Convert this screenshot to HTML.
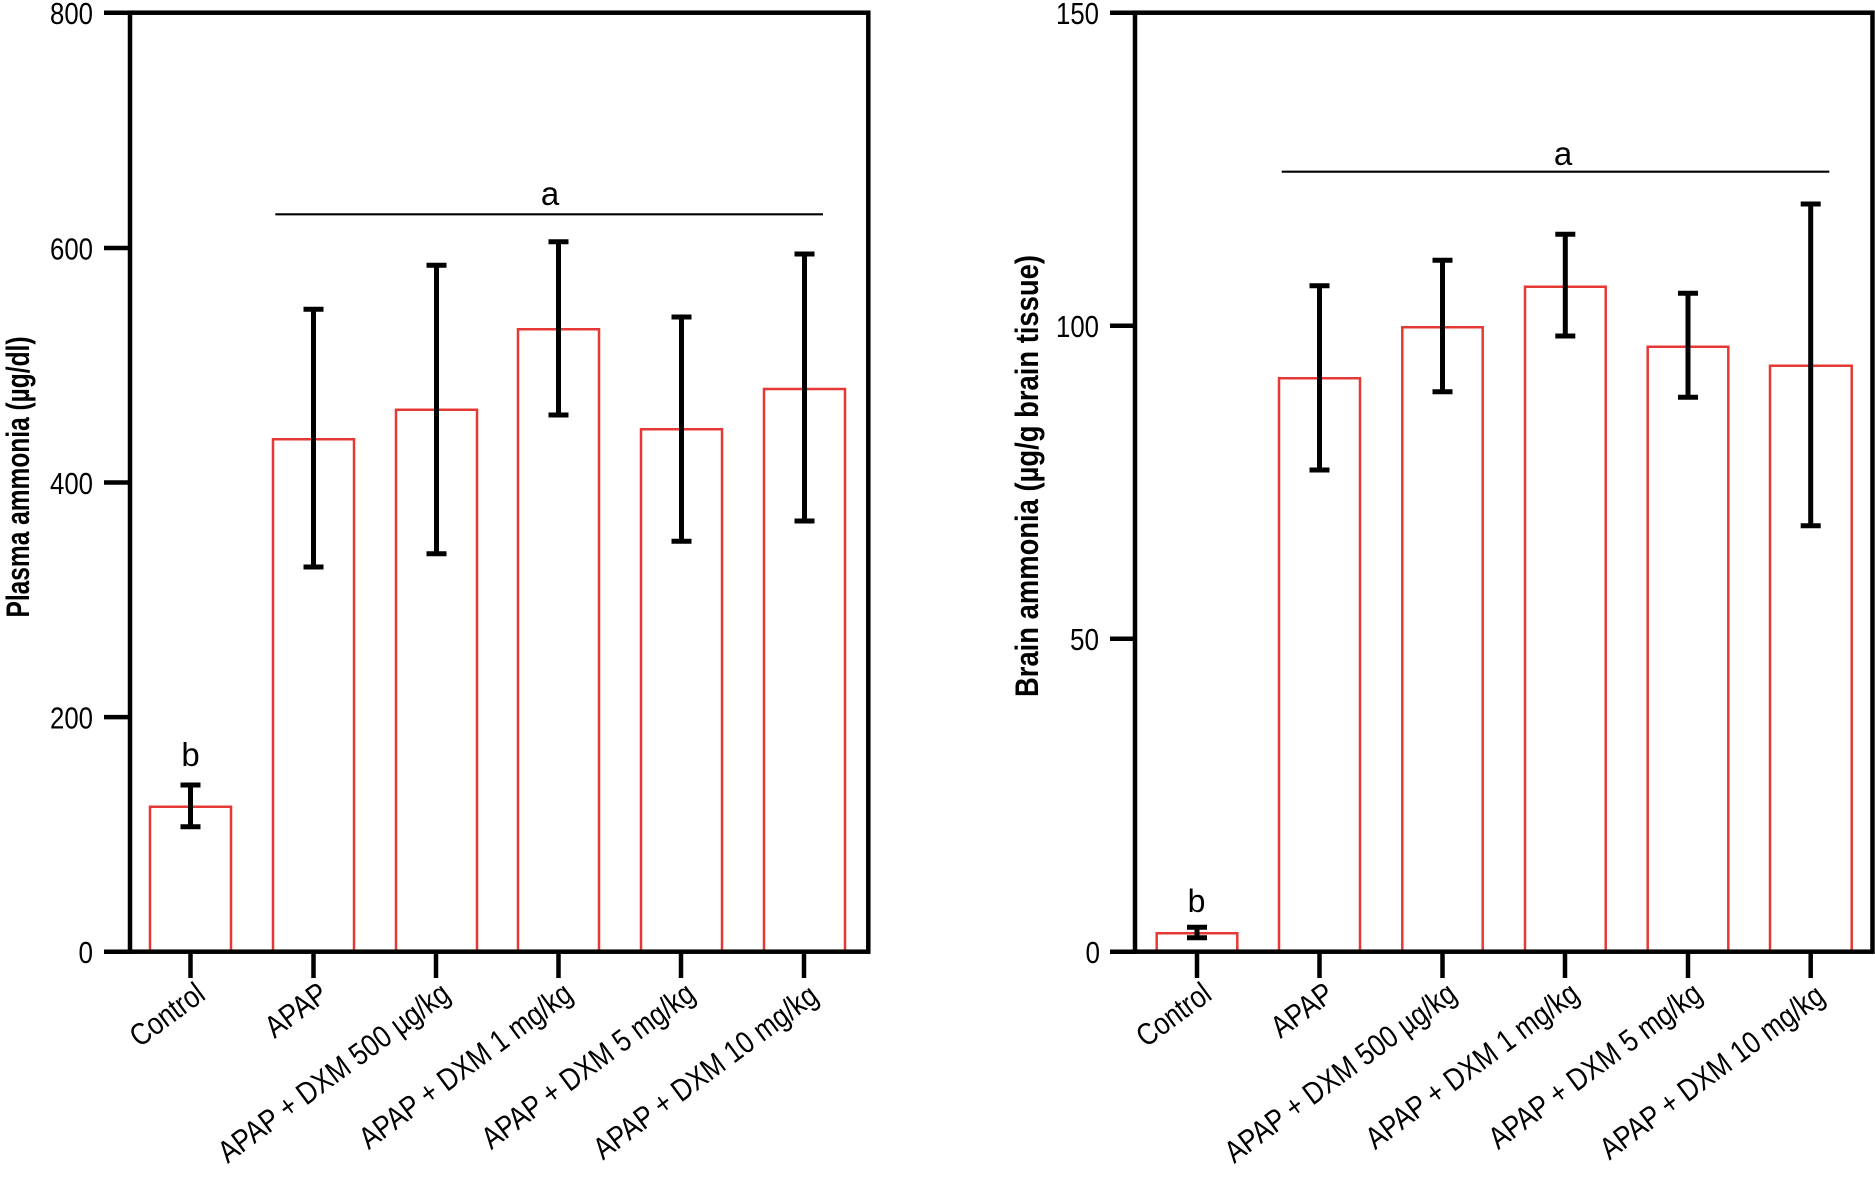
<!DOCTYPE html>
<html>
<head>
<meta charset="utf-8">
<style>
  html, body { margin: 0; padding: 0; background: #ffffff; }
  svg { display: block; }
  text { font-family: "Liberation Sans", "DejaVu Sans", sans-serif; fill: #000; }
</style>
</head>
<body>
<svg width="1875" height="1177" viewBox="0 0 1875 1177" xmlns="http://www.w3.org/2000/svg">
  <rect x="0" y="0" width="1875" height="1177" fill="#ffffff"/>

  <!-- ================= LEFT PANEL ================= -->
  <g fill="none" stroke="#e53935" stroke-width="2.5">
    <path d="M150,952 V806.7 H231 V952"/>
    <path d="M273,952 V439.3 H354 V952"/>
    <path d="M396,952 V409.7 H477 V952"/>
    <path d="M518,952 V329.3 H599 V952"/>
    <path d="M641,952 V429.3 H722 V952"/>
    <path d="M764,952 V389 H845 V952"/>
  </g>
  <g stroke="#000" stroke-width="5" fill="none">
    <path d="M190.5,785 V826.7 M180.5,785 H200.5 M180.5,826.7 H200.5"/>
    <path d="M313.5,309.3 V567 M303.5,309.3 H323.5 M303.5,567 H323.5"/>
    <path d="M436.5,265.3 V553.7 M426.5,265.3 H446.5 M426.5,553.7 H446.5"/>
    <path d="M558.5,241.7 V415 M548.5,241.7 H568.5 M548.5,415 H568.5"/>
    <path d="M681.5,317 V541.3 M671.5,317 H691.5 M671.5,541.3 H691.5"/>
    <path d="M804.5,254 V521 M794.5,254 H814.5 M794.5,521 H814.5"/>
  </g>
  <rect x="130" y="12.7" width="738.3" height="939" fill="none" stroke="#000" stroke-width="4.5"/>
  <g stroke="#000" stroke-width="4.5">
    <line x1="104" y1="12.7" x2="130" y2="12.7"/>
    <line x1="104" y1="248" x2="130" y2="248"/>
    <line x1="104" y1="482.5" x2="130" y2="482.5"/>
    <line x1="104" y1="717.1" x2="130" y2="717.1"/>
    <line x1="104" y1="951.7" x2="130" y2="951.7"/>
  </g>
  <g stroke="#000" stroke-width="4.5">
    <line x1="190.5" y1="952" x2="190.5" y2="978"/>
    <line x1="313.5" y1="952" x2="313.5" y2="978"/>
    <line x1="436" y1="952" x2="436" y2="978"/>
    <line x1="558.5" y1="952" x2="558.5" y2="978"/>
    <line x1="681" y1="952" x2="681" y2="978"/>
    <line x1="804" y1="952" x2="804" y2="978"/>
  </g>
  <g font-size="31" text-anchor="end">
    <text x="93" y="24" textLength="43" lengthAdjust="spacingAndGlyphs">800</text>
    <text x="93" y="259.5" textLength="43" lengthAdjust="spacingAndGlyphs">600</text>
    <text x="93" y="494" textLength="43" lengthAdjust="spacingAndGlyphs">400</text>
    <text x="93" y="728.5" textLength="43" lengthAdjust="spacingAndGlyphs">200</text>
    <text x="93" y="963" textLength="14.5" lengthAdjust="spacingAndGlyphs">0</text>
  </g>
  <text transform="translate(29,477) rotate(-90)" font-size="32" font-weight="bold" text-anchor="middle" textLength="281" lengthAdjust="spacingAndGlyphs">Plasma ammonia (µg/dl)</text>
  <g font-size="31" text-anchor="end">
    <text transform="translate(207,998) rotate(-36.5)" textLength="84" lengthAdjust="spacingAndGlyphs">Control</text>
    <text transform="translate(330,998) rotate(-36.5)" textLength="69" lengthAdjust="spacingAndGlyphs">APAP</text>
    <text transform="translate(452,998) rotate(-36.5)" textLength="279" lengthAdjust="spacingAndGlyphs">APAP + DXM 500 µg/kg</text>
    <text transform="translate(574.5,998) rotate(-36.5)" textLength="256" lengthAdjust="spacingAndGlyphs">APAP + DXM 1 mg/kg</text>
    <text transform="translate(697,998) rotate(-36.5)" textLength="256" lengthAdjust="spacingAndGlyphs">APAP + DXM 5 mg/kg</text>
    <text transform="translate(820,1000) rotate(-36.5)" textLength="270" lengthAdjust="spacingAndGlyphs">APAP + DXM 10 mg/kg</text>
  </g>
  <line x1="275.3" y1="214.3" x2="823" y2="214.3" stroke="#000" stroke-width="2.2"/>
  <text x="550" y="205" font-size="33" text-anchor="middle">a</text>
  <text x="190.5" y="766" font-size="33" text-anchor="middle">b</text>

  <!-- ================= RIGHT PANEL ================= -->
  <g fill="none" stroke="#e53935" stroke-width="2.5">
    <path d="M1156.7,952 V933.3 H1237.3 V952"/>
    <path d="M1279,952 V378.3 H1360 V952"/>
    <path d="M1402.3,952 V327.3 H1482.7 V952"/>
    <path d="M1525,952 V286.7 H1605.7 V952"/>
    <path d="M1647.7,952 V346.7 H1728.3 V952"/>
    <path d="M1770,952 V365.7 H1851.7 V952"/>
  </g>
  <g stroke="#000" stroke-width="5" fill="none">
    <path d="M1197,927.3 V937.7 M1187,927.3 H1207 M1187,937.7 H1207"/>
    <path d="M1319.5,285.7 V470 M1309.5,285.7 H1329.5 M1309.5,470 H1329.5"/>
    <path d="M1442.5,260.3 V391.7 M1432.5,260.3 H1452.5 M1432.5,391.7 H1452.5"/>
    <path d="M1565.3,234.3 V336 M1555.3,234.3 H1575.3 M1555.3,336 H1575.3"/>
    <path d="M1688,293.3 V397.3 M1678,293.3 H1698 M1678,397.3 H1698"/>
    <path d="M1810.7,204 V525.7 M1800.7,204 H1820.7 M1800.7,525.7 H1820.7"/>
  </g>
  <rect x="1135" y="12.7" width="737.5" height="939" fill="none" stroke="#000" stroke-width="4.5"/>
  <g stroke="#000" stroke-width="4.5">
    <line x1="1110" y1="12.7" x2="1135" y2="12.7"/>
    <line x1="1110" y1="325.7" x2="1135" y2="325.7"/>
    <line x1="1110" y1="638.7" x2="1135" y2="638.7"/>
    <line x1="1110" y1="951.7" x2="1135" y2="951.7"/>
  </g>
  <g stroke="#000" stroke-width="4.5">
    <line x1="1197" y1="952" x2="1197" y2="978"/>
    <line x1="1319.5" y1="952" x2="1319.5" y2="978"/>
    <line x1="1442.5" y1="952" x2="1442.5" y2="978"/>
    <line x1="1565" y1="952" x2="1565" y2="978"/>
    <line x1="1688" y1="952" x2="1688" y2="978"/>
    <line x1="1810.7" y1="952" x2="1810.7" y2="978"/>
  </g>
  <g font-size="31" text-anchor="end">
    <text x="1099" y="24" textLength="43" lengthAdjust="spacingAndGlyphs">150</text>
    <text x="1099" y="337" textLength="43" lengthAdjust="spacingAndGlyphs">100</text>
    <text x="1099" y="650" textLength="29" lengthAdjust="spacingAndGlyphs">50</text>
    <text x="1100" y="963" textLength="14.5" lengthAdjust="spacingAndGlyphs">0</text>
  </g>
  <text transform="translate(1038,476) rotate(-90)" font-size="32" font-weight="bold" text-anchor="middle" textLength="442" lengthAdjust="spacingAndGlyphs">Brain ammonia (µg/g brain tissue)</text>
  <g font-size="31" text-anchor="end">
    <text transform="translate(1213.5,998) rotate(-36.5)" textLength="84" lengthAdjust="spacingAndGlyphs">Control</text>
    <text transform="translate(1336,998) rotate(-36.5)" textLength="69" lengthAdjust="spacingAndGlyphs">APAP</text>
    <text transform="translate(1458.5,998) rotate(-36.5)" textLength="279" lengthAdjust="spacingAndGlyphs">APAP + DXM 500 µg/kg</text>
    <text transform="translate(1581,998) rotate(-36.5)" textLength="256" lengthAdjust="spacingAndGlyphs">APAP + DXM 1 mg/kg</text>
    <text transform="translate(1704,998) rotate(-36.5)" textLength="256" lengthAdjust="spacingAndGlyphs">APAP + DXM 5 mg/kg</text>
    <text transform="translate(1826.5,1000) rotate(-36.5)" textLength="270" lengthAdjust="spacingAndGlyphs">APAP + DXM 10 mg/kg</text>
  </g>
  <line x1="1281.7" y1="171.7" x2="1829.3" y2="171.7" stroke="#000" stroke-width="2.2"/>
  <text x="1563" y="165" font-size="33" text-anchor="middle">a</text>
  <text x="1196.5" y="912" font-size="32" text-anchor="middle">b</text>
</svg>
</body>
</html>
